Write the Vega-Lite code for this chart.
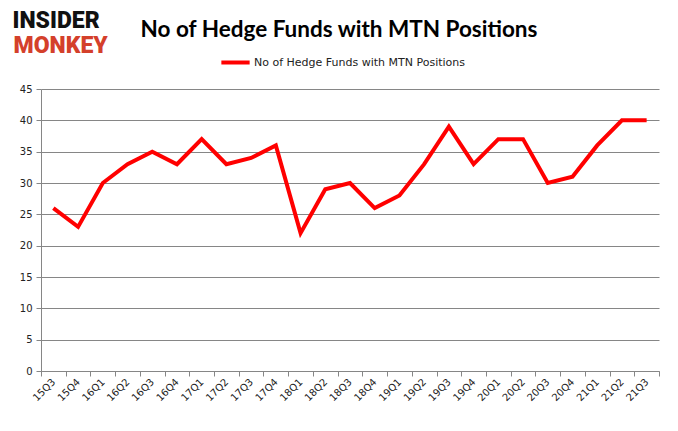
{
  "$schema": "https://vega.github.io/schema/vega-lite/v6.json",
  "width": 618,
  "height": 282,
  "autosize": {"type": "none"},
  "padding": {"left": 41, "top": 89, "right": 19, "bottom": 60},
  "background": "white",
  "title": {
    "text": "No of Hedge Funds with MTN Positions",
    "font": "Lato",
    "fontSize": 22.5,
    "fontWeight": "bold",
    "color": "black",
    "anchor": "middle",
    "offset": 4,
    "dx": -11,
    "dy": 36
  },
  "config": {
    "view": {"stroke": null},
    "axis": {"labelFont": "DejaVu Sans", "labelFontSize": 10, "labelColor": "#222"}
  },
  "data": {
    "values": [
      {"q": "15Q3", "v": 26, "s": "No of Hedge Funds with MTN Positions"},
      {"q": "15Q4", "v": 23, "s": "No of Hedge Funds with MTN Positions"},
      {"q": "16Q1", "v": 30, "s": "No of Hedge Funds with MTN Positions"},
      {"q": "16Q2", "v": 33, "s": "No of Hedge Funds with MTN Positions"},
      {"q": "16Q3", "v": 35, "s": "No of Hedge Funds with MTN Positions"},
      {"q": "16Q4", "v": 33, "s": "No of Hedge Funds with MTN Positions"},
      {"q": "17Q1", "v": 37, "s": "No of Hedge Funds with MTN Positions"},
      {"q": "17Q2", "v": 33, "s": "No of Hedge Funds with MTN Positions"},
      {"q": "17Q3", "v": 34, "s": "No of Hedge Funds with MTN Positions"},
      {"q": "17Q4", "v": 36, "s": "No of Hedge Funds with MTN Positions"},
      {"q": "18Q1", "v": 22, "s": "No of Hedge Funds with MTN Positions"},
      {"q": "18Q2", "v": 29, "s": "No of Hedge Funds with MTN Positions"},
      {"q": "18Q3", "v": 30, "s": "No of Hedge Funds with MTN Positions"},
      {"q": "18Q4", "v": 26, "s": "No of Hedge Funds with MTN Positions"},
      {"q": "19Q1", "v": 28, "s": "No of Hedge Funds with MTN Positions"},
      {"q": "19Q2", "v": 33, "s": "No of Hedge Funds with MTN Positions"},
      {"q": "19Q3", "v": 39, "s": "No of Hedge Funds with MTN Positions"},
      {"q": "19Q4", "v": 33, "s": "No of Hedge Funds with MTN Positions"},
      {"q": "20Q1", "v": 37, "s": "No of Hedge Funds with MTN Positions"},
      {"q": "20Q2", "v": 37, "s": "No of Hedge Funds with MTN Positions"},
      {"q": "20Q3", "v": 30, "s": "No of Hedge Funds with MTN Positions"},
      {"q": "20Q4", "v": 31, "s": "No of Hedge Funds with MTN Positions"},
      {"q": "21Q1", "v": 36, "s": "No of Hedge Funds with MTN Positions"},
      {"q": "21Q2", "v": 40, "s": "No of Hedge Funds with MTN Positions"},
      {"q": "21Q3", "v": 40, "s": "No of Hedge Funds with MTN Positions"}
    ]
  },
  "encoding": {
    "x": {
      "field": "q",
      "type": "ordinal",
      "sort": null,
      "scale": {"type": "band", "paddingInner": 0, "paddingOuter": 0},
      "axis": {
        "title": null,
        "labelAngle": -45,
        "labelAlign": "right",
        "labelBaseline": "middle",
        "labelPadding": 4,
        "tickBand": "extent",
        "domainColor": "#868686",
        "tickColor": "#868686",
        "tickSize": 5,
        "grid": false
      }
    }
  },
  "layer": [
    {
      "mark": {"type": "line", "strokeWidth": 4, "strokeJoin": "miter"},
      "encoding": {
        "y": {
          "field": "v",
          "type": "quantitative",
          "scale": {"domain": [0, 45], "nice": false},
          "axis": {
            "title": "INSIDER",
            "titleAngle": 0,
            "titleAlign": "left",
            "titleBaseline": "alphabetic",
            "titleX": -29,
            "titleY": -62,
            "titleFont": "Roboto",
            "titleFontSize": 23,
            "titleFontWeight": 900,
            "titleColor": "#111111",
            "values": [0, 5, 10, 15, 20, 25, 30, 35, 40, 45],
            "grid": true,
            "gridColor": "#868686",
            "gridOpacity": 1,
            "domainColor": "#868686",
            "tickColor": "#868686",
            "tickSize": 5,
            "labelPadding": 4
          }
        },
        "color": {
          "field": "s",
          "type": "nominal",
          "scale": {"range": ["#ff0000"]},
          "legend": {
            "title": null,
            "orient": "none",
            "legendX": 178,
            "legendY": -43,
            "direction": "horizontal",
            "symbolType": "stroke",
            "symbolStrokeWidth": 4,
            "symbolSize": 800,
            "labelFont": "DejaVu Sans",
            "labelFontSize": 11,
            "labelColor": "#222",
            "labelLimit": 0,
            "labelOffset": 2
          }
        }
      }
    },
    {
      "mark": {"type": "line", "strokeOpacity": 0},
      "encoding": {
        "y": {
          "field": "v",
          "type": "quantitative",
          "axis": {
            "orient": "left",
            "title": "MONKEY",
            "titleAngle": 0,
            "titleAlign": "left",
            "titleBaseline": "alphabetic",
            "titleX": -28,
            "titleY": -37,
            "titleFont": "Roboto",
            "titleFontSize": 23,
            "titleFontWeight": 900,
            "titleColor": "#d4402b",
            "labels": false,
            "ticks": false,
            "domain": false,
            "grid": false
          }
        }
      }
    }
  ],
  "resolve": {"axis": {"y": "independent"}}
}
